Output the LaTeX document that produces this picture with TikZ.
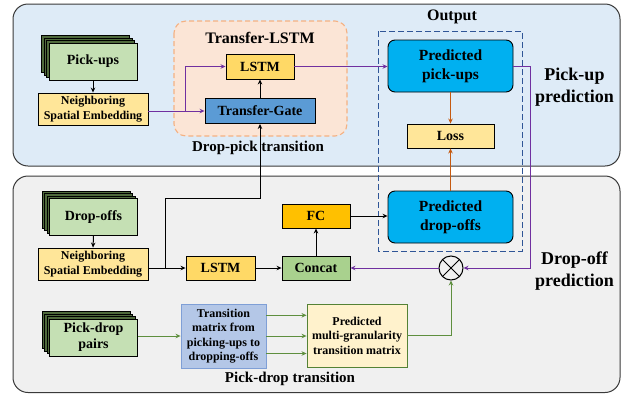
\documentclass[tikz,border=0pt]{standalone}
\usepackage{fontspec}
\setmainfont{Liberation Serif}
\usetikzlibrary{arrows.meta,positioning}

\definecolor{topfill}{HTML}{DEEBF7}
\definecolor{botfill}{HTML}{F0F0F0}
\definecolor{panelline}{HTML}{3A3A3A}
\definecolor{greenbox}{HTML}{C5E0B4}
\definecolor{greenback}{HTML}{4F6A3C}
\definecolor{nsefill}{HTML}{FFE699}
\definecolor{lstmfill}{HTML}{FFD966}
\definecolor{gatefill}{HTML}{5B9BD5}
\definecolor{predfill}{HTML}{00B0F0}
\definecolor{fcfill}{HTML}{FFC000}
\definecolor{concatfill}{HTML}{A9D18E}
\definecolor{tmfill}{HTML}{B4C7E7}
\definecolor{tmline}{HTML}{7F9FD6}
\definecolor{pmgfill}{HTML}{FFF2CC}
\definecolor{pmgline}{HTML}{548235}
\definecolor{purpleline}{HTML}{7030A0}
\definecolor{orangeline}{HTML}{C55A11}
\definecolor{greenline}{HTML}{5E8F3E}
\definecolor{tlfill}{HTML}{FBE5D6}
\definecolor{tlline}{HTML}{F4B183}
\definecolor{outline}{HTML}{2F5597}

\tikzset{
  x=1pt, y=-1pt,
  every node/.style={font=\bfseries, inner sep=1pt},
  panel/.style={draw=panelline, line width=1pt, rounded corners=15pt},
  box/.style={draw=black, line width=0.9pt, align=center, font=\bfseries\fontsize{14}{16}\selectfont},
  smallbox/.style={box, font=\bfseries\fontsize{12}{14.5}\selectfont},
  stackbox/.style={box, fill=greenbox, minimum width=88pt, minimum height=37pt},
  stackback/.style={draw=black, line width=0.8pt, fill=greenback, minimum width=88pt, minimum height=37pt},
  predbox/.style={box, fill=predfill, rounded corners=7pt, minimum width=125pt, minimum height=52pt,
                  font=\bfseries\fontsize{15.5}{19.3}\selectfont},
  tip/.style={-{Stealth[length=5pt,width=4.5pt]}},
  blackarrow/.style={tip, draw=black, line width=1pt},
  purplearrow/.style={tip, draw=purpleline, line width=1pt},
  orangearrow/.style={tip, draw=orangeline, line width=1pt},
  greenarrow/.style={tip, draw=greenline, line width=1pt},
  biglabel/.style={align=center, font=\bfseries\fontsize{18}{22}\selectfont},
  title/.style={font=\bfseries\fontsize{16}{18}\selectfont},
  caption/.style={font=\bfseries\fontsize{15}{17}\selectfont},
}

% a stack of input layers: name, x, y, text
\newcommand\layerstack[4]{%
  \foreach \k in {3,2,1} {%
    \node[stackback, xshift=-2.4*\k pt, yshift=2.4*\k pt] at (#2,#3) {};}
  \node[stackbox] (#1) at (#2,#3) {#4};}

\begin{document}
\begin{tikzpicture}
\useasboundingbox (0,0) rectangle (622,394);

% panels
\draw[panel, fill=topfill] (13,4) rectangle (620,166);
\draw[panel, fill=botfill] (13,176) rectangle (620,392.5);

% Transfer-LSTM group
\draw[draw=tlline, fill=tlfill, line width=1.1pt, dashed, dash pattern=on 5pt off 3pt, rounded corners=12pt]
  (174,21) rectangle (347,136);
\node[title] (tltitle) at (260,38) {Transfer-LSTM};

% Output group
\draw[draw=outline, line width=1pt, dash pattern=on 6pt off 3pt] (378,31) rectangle (522,251);
\node[title] (outtitle) at (452,17) {Output};

% pick-up branch
\layerstack{pu}{93}{61.5}{Pick-ups}
\node[smallbox, fill=nsefill, minimum width=110pt, minimum height=32pt] (nse1) at (93,109)
  {Neighboring\\Spatial Embedding};
\node[box, fill=lstmfill, minimum width=68pt, minimum height=25pt] (lstm1) at (260,66.5) {LSTM};
\node[box, fill=gatefill, minimum width=110pt, minimum height=25pt] (tg) at (260,111) {Transfer-Gate};
\node[caption] (dpt) at (258,148) {Drop-pick transition};

\node[predbox] (ppu) at (450.5,66) {Predicted\\pick-ups};
\node[box, fill=nsefill, minimum width=87pt, minimum height=24pt] (loss) at (450.5,136) {Loss};
\node[predbox] (pdo) at (450.5,217) {Predicted\\drop-offs};

\node[biglabel] (pul) at (574.5,87) {Pick-up\\prediction};
\node[biglabel] (dol) at (574.5,271) {Drop-off\\prediction};

% drop-off branch
\layerstack{do}{93.5}{217}{Drop-offs}
\node[smallbox, fill=nsefill, minimum width=110pt, minimum height=32pt] (nse2) at (93,264)
  {Neighboring\\Spatial Embedding};
\node[box, fill=lstmfill, minimum width=69pt, minimum height=24pt] (lstm2) at (220.5,268) {LSTM};
\node[box, fill=concatfill, minimum width=68pt, minimum height=24pt] (concat) at (316,268) {Concat};
\node[box, fill=fcfill, minimum width=68pt, minimum height=24pt] (fc) at (316,216) {FC};
\node[draw=black, line width=1pt, circle, minimum size=24pt, inner sep=0pt] (mult) at (451,268) {};
\draw[line width=1pt] (mult.north west) -- (mult.south east) (mult.north east) -- (mult.south west);

% transition branch
\layerstack{pdp}{93.5}{337.5}{Pick-drop\\pairs}
\node[smallbox, draw=tmline, fill=tmfill, minimum width=85pt, minimum height=64pt] (tm) at (223.5,336)
  {Transition\\matrix from\\picking-ups to\\dropping-offs};
\node[smallbox, draw=pmgline, fill=pmgfill, minimum width=100pt, minimum height=63pt] (pmg) at (357,335.5)
  {Predicted\\multi-granularity\\transition matrix};
\node[caption] (pdt) at (290,379) {Pick-drop transition};

% connectors: pick-up side
\draw[blackarrow] (pu.south) -- (nse1.north);
\draw[purplearrow] (nse1.east |- tg.west) -- (tg.west);
\coordinate (split1) at (185,111);
\draw[purplearrow] (split1) |- (lstm1.west);
\draw[blackarrow] (tg.north) -- (lstm1.south);
\draw[purplearrow] (lstm1.east) -- (lstm1.east -| ppu.west);
\draw[orangearrow] (ppu.south) -- (loss.north);
\draw[orangearrow] (pdo.north) -- (loss.south);
\draw[purplearrow] (ppu.east) -- ++(17,0) |- (mult.east);

% connectors: drop-off side
\draw[blackarrow] (do.south) -- (nse2.north);
\draw[blackarrow] (nse2.east |- lstm2.west) -- (lstm2.west);
\coordinate (split2) at (165,268);
\coordinate (turn2) at (165,198);
\draw[blackarrow] (split2) -- (turn2) -| (tg.south);
\draw[blackarrow] (lstm2.east) -- (concat.west);
\draw[blackarrow] (concat.north) -- (fc.south);
\draw[blackarrow] (fc.east) -- (fc.east -| pdo.west);
\draw[purplearrow] (mult.west) -- (concat.east);

% connectors: transition side
\draw[greenarrow] (tm.west -| pdp.east) -- (tm.west);
\draw[greenarrow] ([yshift=20.7pt]tm.east) -- ([yshift=20.7pt]tm.east -| pmg.west);
\draw[greenarrow] (tm.east) -- (tm.east -| pmg.west);
\draw[greenarrow] ([yshift=-17.5pt]tm.east) -- ([yshift=-17.5pt]tm.east -| pmg.west);
\draw[greenarrow] (pmg.east) -| (mult.south);
\end{tikzpicture}
\end{document}
